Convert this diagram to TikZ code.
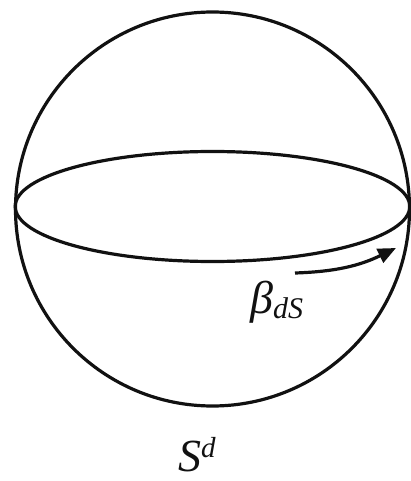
\documentclass[tikz,border=0pt]{standalone}
\usepackage{fontspec}
\setmainfont{Liberation Serif}
\usetikzlibrary{arrows.meta, positioning}
\definecolor{SphInk}{HTML}{111111}

\begin{document}
\begin{tikzpicture}[
    x=1pt, y=-1pt,
    outline/.style={draw=SphInk, line width=3.2pt},
    flow/.style={
      draw=SphInk,
      line width=3.2pt,
      -{Triangle[length=18pt,width=15pt]},
    },
    label/.style={
      text=SphInk,
      inner sep=0pt,
      font=\fontsize{46}{46}\selectfont\itshape,
    },
  ]
    \useasboundingbox (0,0) rectangle (411,481);
    \coordinate (centre) at (212.5,209);
    \coordinate (equator) at (212.5,206.5);
    \draw[outline] (centre) circle[radius=197];
    \draw[outline] (equator) ellipse[x radius=197.3, y radius=55];
    \coordinate (flowstart) at (295,273);
    \coordinate (flowend) at (396,248);
    \draw[flow] (flowstart) to[bend right=12] (flowend);
    \node[label, anchor=base west] (beta) at (250,313)
      {β\raisebox{-5pt}{\fontsize{30}{30}\selectfont dS}};
    \node[label, anchor=base west] (sphere) at (178,471)
      {S\raisebox{14pt}{\fontsize{29}{29}\selectfont d}};
  \end{tikzpicture}
\end{document}
